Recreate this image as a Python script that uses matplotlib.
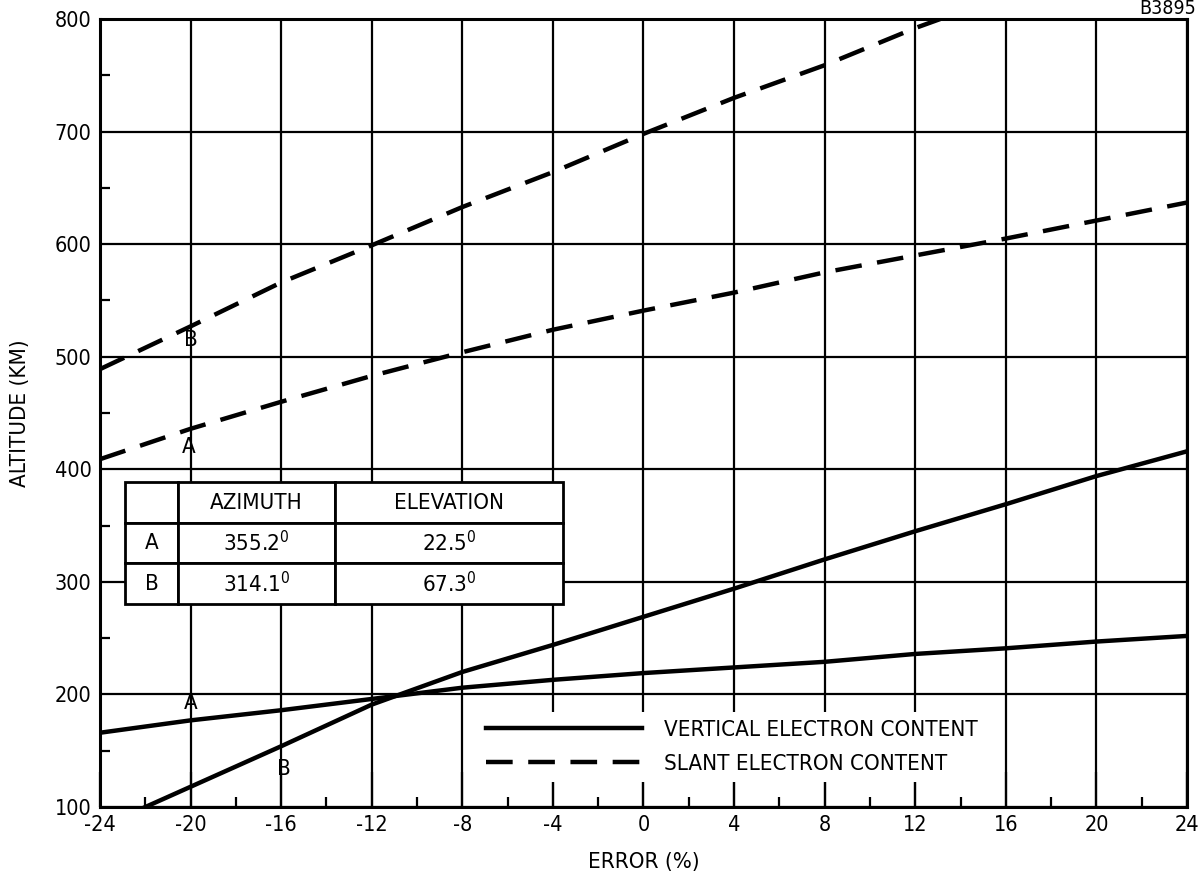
import matplotlib
matplotlib.use("Agg")
import matplotlib.pyplot as plt
from matplotlib.ticker import MultipleLocator

plt.rcParams['font.family'] = ['DejaVu Sans']
plt.rcParams['font.stretch'] = 'condensed'
plt.rcParams['mathtext.fontset'] = 'dejavusans'

# vertical electron content (solid)
vert_a_err = [-24, -20, -16, -12, -8, -4, 0, 4, 8, 12, 16, 20, 24]
vert_a_alt = [166, 177, 186, 196, 206, 213, 219, 224, 229, 236, 241, 247, 252]
vert_b_err = [-22, -20, -16, -12, -8, -4, 0, 4, 8, 12, 16, 20, 24]
vert_b_alt = [100, 118, 154, 191, 220, 244, 269, 294, 320, 345, 369, 394, 416]

# slant electron content (dashed)
slant_a_err = [-24, -20, -16, -12, -8, -4, 0, 4, 8, 12, 16, 20, 24]
slant_a_alt = [409, 436, 460, 483, 504, 524, 541, 557, 575, 590, 605, 621, 637]
slant_b_err = [-24, -20, -16, -12, -8, -4, 0, 4, 8, 12, 13.1]
slant_b_alt = [489, 527, 566, 599, 633, 664, 698, 730, 759, 792, 800]

table_rows = ["A", "B"]
table_cols = ["", "AZIMUTH", "ELEVATION"]
azimuth = ["355.2", "314.1"]
elevation = ["22.5", "67.3"]


def main():
    fig = plt.figure(figsize=(12.02, 8.82), dpi=100)
    ax = fig.add_axes([0.0832, 0.085, 0.9043, 0.8934])

    solid_a, = ax.plot(vert_a_err, vert_a_alt, color="black", lw=3.2)
    ax.plot(vert_b_err, vert_b_alt, color="black", lw=3.2)
    dash_a, = ax.plot(slant_a_err, slant_a_alt, color="black", lw=3.2, dashes=(6, 3.5))
    ax.plot(slant_b_err, slant_b_alt, color="black", lw=3.2, dashes=(6, 3.5))

    ax.set_xlim(-24, 24)
    ax.set_ylim(100, 800)
    ax.xaxis.set_major_locator(MultipleLocator(4))
    ax.xaxis.set_minor_locator(MultipleLocator(2))
    ax.yaxis.set_major_locator(MultipleLocator(100))
    ax.yaxis.set_minor_locator(MultipleLocator(50))
    ax.grid(True, which="major", color="black", lw=1.6)
    ax.tick_params(which="major", direction="in", length=0, labelsize=15.5, pad=6)
    ax.tick_params(axis="x", which="major", length=25, width=1.6, color="black")
    ax.tick_params(which="minor", direction="in", length=7, width=1.6, color="black")
    ax.set_xticklabels([f"{int(v)}" for v in ax.get_xticks()])
    for s in ax.spines.values():
        s.set_linewidth(2.2)
        s.set_zorder(6)

    ax.set_xlabel("ERROR (%)", fontsize=16, labelpad=12)
    ax.set_ylabel("ALTITUDE (KM)", fontsize=16, labelpad=18)

    # curve labels
    ax.text(-20.1, 420, "A", fontsize=16, ha="center", va="center")
    ax.text(-20, 515, "B", fontsize=16, ha="center", va="center")
    ax.text(-20, 192, "A", fontsize=16, ha="center", va="center")
    ax.text(-15.9, 134, "B", fontsize=16, ha="center", va="center")

    cells = [table_cols]
    for r, az, el in zip(table_rows, azimuth, elevation):
        cells.append([r, az + r"$^{0}$", el + r"$^{0}$"])
    tbl = ax.table(cellText=cells, cellLoc="center",
                   colWidths=[0.121, 0.358, 0.521],
                   bbox=[0.023, 0.258, 0.403, 0.154])
    tbl.auto_set_font_size(False)
    tbl.set_fontsize(16)
    for cell in tbl.get_celld().values():
        cell.set_linewidth(2)
        cell.set_edgecolor("black")
        cell.set_facecolor("white")
    tbl.set_zorder(5)

    # legend sits on a white patch that hides the grid, as in the original
    leg = ax.legend(handles=[solid_a, dash_a],
                    labels=["VERTICAL ELECTRON CONTENT", "SLANT ELECTRON CONTENT"],
                    loc="lower left", bbox_to_anchor=(0.348, 0.032),
                    borderaxespad=0, frameon=True, fancybox=False,
                    facecolor="white", edgecolor="none", framealpha=1,
                    borderpad=0.35, fontsize=16, handlelength=7.0,
                    handletextpad=1.0, labelspacing=0.62)
    leg.set_zorder(4)

    fig.text(0.995, 0.99, "B3895", fontsize=14, ha="right", va="center")

    fig.savefig("out.png", dpi=100)


if __name__ == "__main__":
    main()
